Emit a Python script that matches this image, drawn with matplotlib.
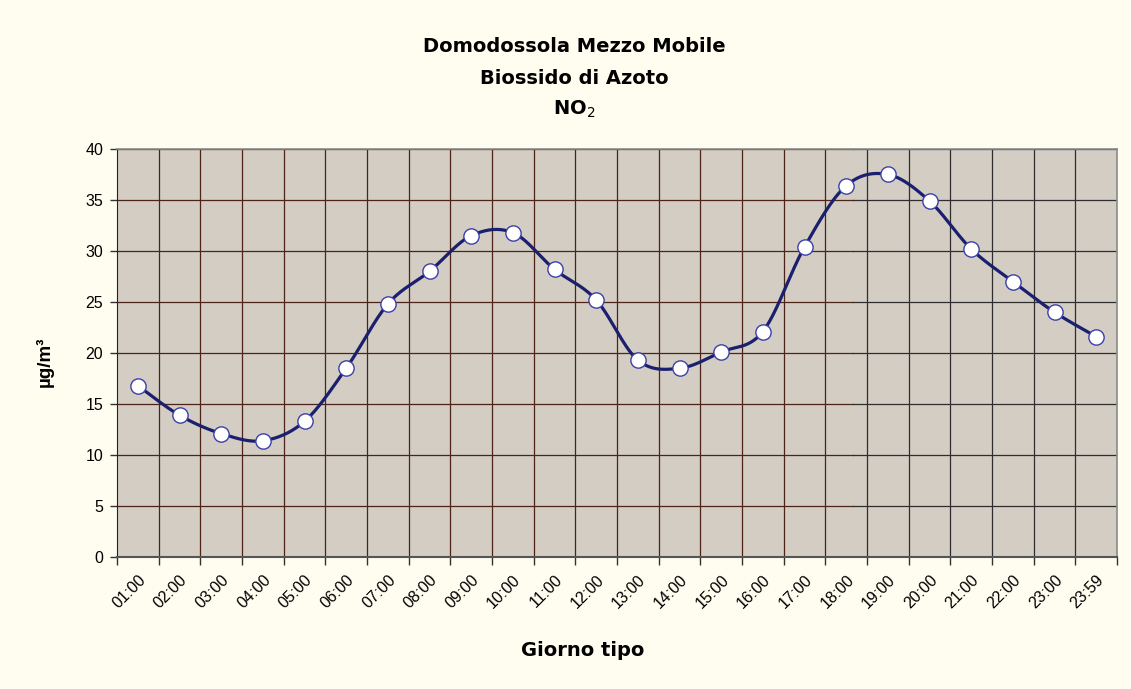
import numpy as np
import matplotlib
matplotlib.use("Agg")
import matplotlib.pyplot as plt

# ------------------------------
# Data
# ------------------------------
hours = ['01:00', '02:00', '03:00', '04:00', '05:00', '06:00', '07:00', '08:00',
         '09:00', '10:00', '11:00', '12:00', '13:00', '14:00', '15:00', '16:00',
         '17:00', '18:00', '19:00', '20:00', '21:00', '22:00', '23:00', '23:59']
no2 = [16.8, 13.9, 12.1, 11.4, 13.3, 18.5, 24.8, 28.0, 31.5, 31.8, 28.2, 25.2,
       19.3, 18.5, 20.1, 22.1, 30.4, 36.4, 37.5, 34.9, 30.2, 27.0, 24.0, 21.6]
y_ticks = [0, 5, 10, 15, 20, 25, 30, 35, 40]

title_lines = ['Domodossola Mezzo Mobile', 'Biossido di Azoto', 'NO$_2$']
xlabel = 'Giorno tipo'
ylabel = 'µg/m³'

# colours
fig_bg = '#FFFCF0'
plot_bg = '#D3CDC3'
grid_red = '#4E2418'
grid_dark = '#2E2E2E'
line_col = '#1A1F6E'
marker_edge = '#3B3FA8'


def smooth_curve(x, y, n=30):
    # Excel-like smoothed line (Catmull-Rom as cubic Bezier)
    px = np.concatenate([[x[0]], x, [x[-1]]])
    py = np.concatenate([[y[0]], y, [y[-1]]])
    t = np.linspace(0, 1, n)
    xs, ys = [], []
    for i in range(1, len(px) - 2):
        p0 = np.array([px[i], py[i]])
        p3 = np.array([px[i + 1], py[i + 1]])
        c1 = p0 + (np.array([px[i + 1], py[i + 1]]) - np.array([px[i - 1], py[i - 1]])) / 6
        c2 = p3 - (np.array([px[i + 2], py[i + 2]]) - np.array([px[i], py[i]])) / 6
        b = ((1 - t) ** 3)[:, None] * p0 + (3 * (1 - t) ** 2 * t)[:, None] * c1 \
            + (3 * (1 - t) * t ** 2)[:, None] * c2 + (t ** 3)[:, None] * p3
        xs.append(b[:, 0])
        ys.append(b[:, 1])
    return np.concatenate(xs), np.concatenate(ys)


title_font = ['Liberation Sans Narrow', 'DejaVu Sans']
plt.rcParams['font.family'] = ['Liberation Sans', 'DejaVu Sans']

fig = plt.figure(figsize=(11.31, 6.89), dpi=100, facecolor=fig_bg)
ax = fig.add_axes([117 / 1131, 1 - 557 / 689, 1000 / 1131, 408 / 689])
ax.set_facecolor(plot_bg)

x = np.arange(len(hours))
ax.set_xlim(-0.5, len(hours) - 0.5)
ax.set_ylim(0, 40)

# ------------------------------
# Grid (reddish on the left part, dark on the right)
# ------------------------------
split = 0.736
for v in y_ticks[1:]:
    ax.axhline(v, xmax=split, color=grid_red, lw=0.9, zorder=1)
    ax.axhline(v, xmin=split, color=grid_dark, lw=0.9, zorder=1)
for k in range(1, len(hours)):
    ax.axvline(k - 0.5, color=grid_red if k <= 17 else grid_dark, lw=0.9, zorder=1)

# ------------------------------
# Series
# ------------------------------
sx, sy = smooth_curve(x.astype(float), np.array(no2))
ax.plot(sx, sy, color=line_col, lw=2.3, zorder=3, solid_capstyle='round')
ax.plot(x, no2, linestyle='none', marker='o', markersize=11,
        markerfacecolor='white', markeredgecolor=marker_edge,
        markeredgewidth=1.0, zorder=4)

# ------------------------------
# Axes styling
# ------------------------------
ax.set_yticks(y_ticks)
ax.set_yticklabels([str(v) for v in y_ticks], fontsize=11.5)
ax.set_xticks(np.arange(len(hours) + 1) - 0.5)
ax.set_xticklabels([])
ax.set_xticks(x, minor=True)
ax.set_xticklabels(hours, minor=True, rotation=45, ha='right',
                   rotation_mode='anchor', fontsize=11.5)
ax.tick_params(axis='x', which='minor', length=0, pad=11)
ax.tick_params(axis='x', which='major', length=6, width=1, color='#333333', direction='out')
ax.tick_params(axis='y', length=5, width=1, color='#333333', direction='out', pad=5)

for side in ['top', 'right']:
    ax.spines[side].set_color('#8A8A8A')
    ax.spines[side].set_linewidth(1.2)
ax.spines['left'].set_color('#222222')
ax.spines['bottom'].set_color('#555555')
ax.spines['bottom'].set_linewidth(1.5)

# ------------------------------
# Titles and labels
# ------------------------------
for i, line in enumerate(title_lines):
    fig.text(574 / 1131, 1 - (47 + 31 * i) / 689, line, ha='center', va='center',
             fontsize=14, fontweight='bold', family=title_font)
fig.text(583 / 1131, 1 - 651 / 689, xlabel, ha='center', va='center',
         fontsize=14, fontweight='bold', family=title_font)
fig.text(45 / 1131, 1 - 362 / 689, ylabel, ha='center', va='center',
         rotation=90, fontsize=13.5, fontweight='bold')

fig.savefig('out.png', dpi=100, facecolor=fig_bg)
